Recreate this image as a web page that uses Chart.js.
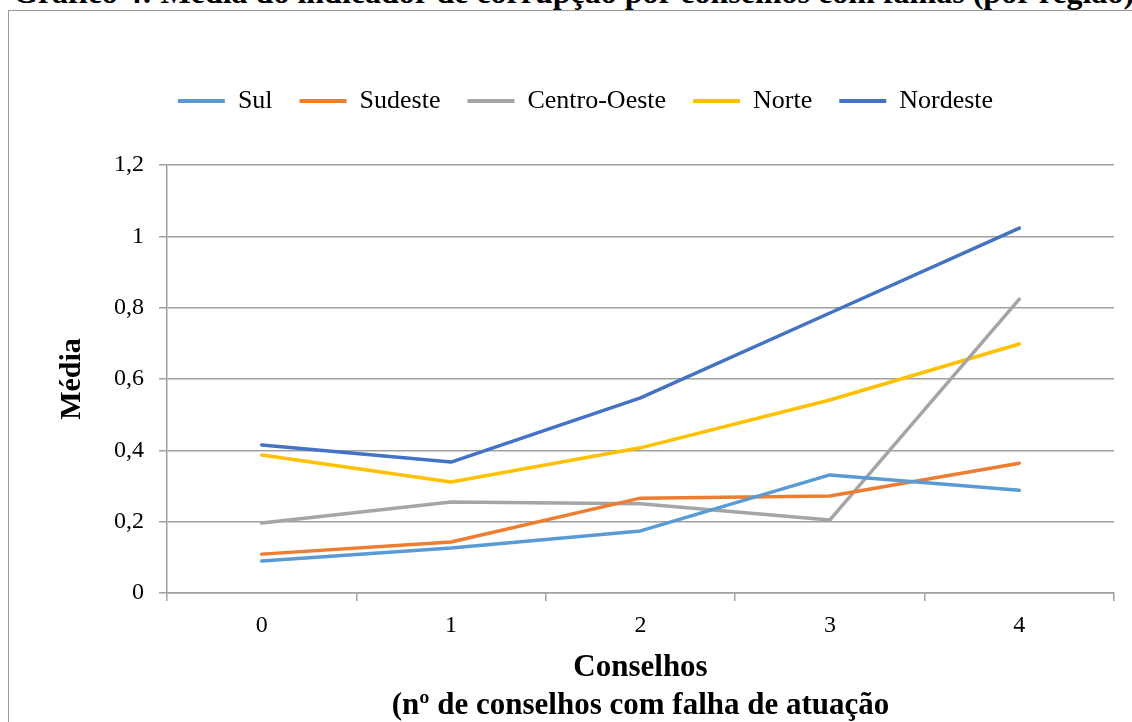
<!DOCTYPE html>
<html lang="pt-BR">
<head>
    <meta charset="UTF-8">
    <title>Gráfico 4 || Média do indicador de corrupção</title>
    <script src="https://cdn.jsdelivr.net/npm/chart.js@4/dist/chart.umd.min.js"></script>
    <style>
        html, body { margin: 0; padding: 0; background: #fff; overflow: hidden; }
        .tituloGrafico {
            position: absolute; left: 13px; top: -24px;
            font: bold 32px "Liberation Serif", "Times New Roman", serif;
            line-height: 32px; white-space: nowrap; color: #000;
        }
        .moldura {
            position: absolute; left: 8px; top: 10px; width: 1200px; height: 800px;
            border: 1px solid #999;
        }
        #grafico { position: absolute; left: 0; top: 0; }
    </style>
</head>
<body>
    <div class="tituloGrafico">Gráfico 4: Média do indicador de corrupção por conselhos com falhas (por região)</div>
    <div class="moldura"></div>
    <canvas id="grafico" width="1132" height="722"></canvas>

<script>
    // categorias do eixo x (nº de conselhos com falha)
    const conselhos = ['0', '1', '2', '3', '4'];
    const yTickLabels = ['0', '0,2', '0,4', '0,6', '0,8', '1', '1,2'];

    // médias por região
    const sul = [0.09, 0.126, 0.174, 0.331, 0.288];
    const sudeste = [0.109, 0.143, 0.266, 0.272, 0.364];
    const centroOeste = [0.196, 0.255, 0.25, 0.205, 0.824];
    const norte = [0.387, 0.311, 0.407, 0.541, 0.698];
    const nordeste = [0.415, 0.367, 0.547, 0.785, 1.023];

    const regioes = ['Sul', 'Sudeste', 'Centro-Oeste', 'Norte', 'Nordeste'];
    const cores = ['#5B9BD5', '#ED7D31', '#A5A5A5', '#FFC000', '#4472C4'];
    const series = [sul, sudeste, centroOeste, norte, nordeste];

    const fonte = '"Liberation Serif", "Times New Roman", serif';
    const cinza = '#a0a0a0';

    const datasets = series.map(function (valores, i) {
        return {
            label: regioes[i],
            data: valores,
            borderColor: cores[i],
            backgroundColor: cores[i],
            borderWidth: 3.5,
            borderCapStyle: 'round',
            borderJoinStyle: 'round',
            pointRadius: 0,
            tension: 0,
            fill: false
        };
    });

    const config = {
        type: 'line',
        data: { labels: conselhos, datasets: datasets },
        options: {
            responsive: false,
            animation: false,
            layout: { padding: { left: 57, right: 18, top: 61, bottom: 0 } },
            plugins: {
                legend: {
                    position: 'top',
                    labels: {
                        font: { family: fonte, size: 26 },
                        color: '#000',
                        boxWidth: 47,
                        boxHeight: 4,
                        padding: 27,
                        generateLabels: function (chart) {
                            return Chart.defaults.plugins.legend.labels.generateLabels(chart).map(function (item) {
                                item.fillStyle = cores[item.datasetIndex];
                                item.lineWidth = 0;
                                return item;
                            });
                        }
                    }
                },
                // espaço entre a legenda e a área do gráfico
                subtitle: {
                    display: true,
                    text: '',
                    weight: 500,
                    padding: 0,
                    font: { size: 41, lineHeight: 1 }
                },
                tooltip: { enabled: false }
            },
            scales: {
                x: {
                    offset: true,
                    grid: { offset: true, drawOnChartArea: false, drawTicks: true, tickLength: 8, color: cinza, lineWidth: 1.5 },
                    border: { display: true, color: cinza, width: 1.5 },
                    ticks: { font: { family: fonte, size: 24 }, color: '#000', padding: 10 },
                    title: {
                        display: true,
                        text: ['Conselhos', '(nº de conselhos com falha de atuação'],
                        font: { family: fonte, size: 31, weight: 'bold', lineHeight: 38 / 31 },
                        color: '#000',
                        padding: { top: 0, bottom: -3 }
                    },
                    afterFit: function (scale) { scale.height = 129; }
                },
                y: {
                    min: 0,
                    max: 1.2,
                    grid: { color: cinza, lineWidth: 1.5, tickLength: 8, drawTicks: true },
                    border: { display: true, color: cinza, width: 1.5 },
                    ticks: {
                        stepSize: 0.2,
                        font: { family: fonte, size: 24 },
                        color: '#000',
                        padding: 15,
                        callback: function (valor, i) { return yTickLabels[i]; }
                    },
                    title: {
                        display: true,
                        text: 'Média',
                        font: { family: fonte, size: 30, weight: 'bold', lineHeight: 1.2 },
                        color: '#000',
                        padding: { top: -3, bottom: 0 }
                    },
                    afterFit: function (scale) { scale.width = 110; }
                }
            }
        }
    };

    let grafico = new Chart(document.getElementById('grafico'), config);
</script>
</body>
</html>
